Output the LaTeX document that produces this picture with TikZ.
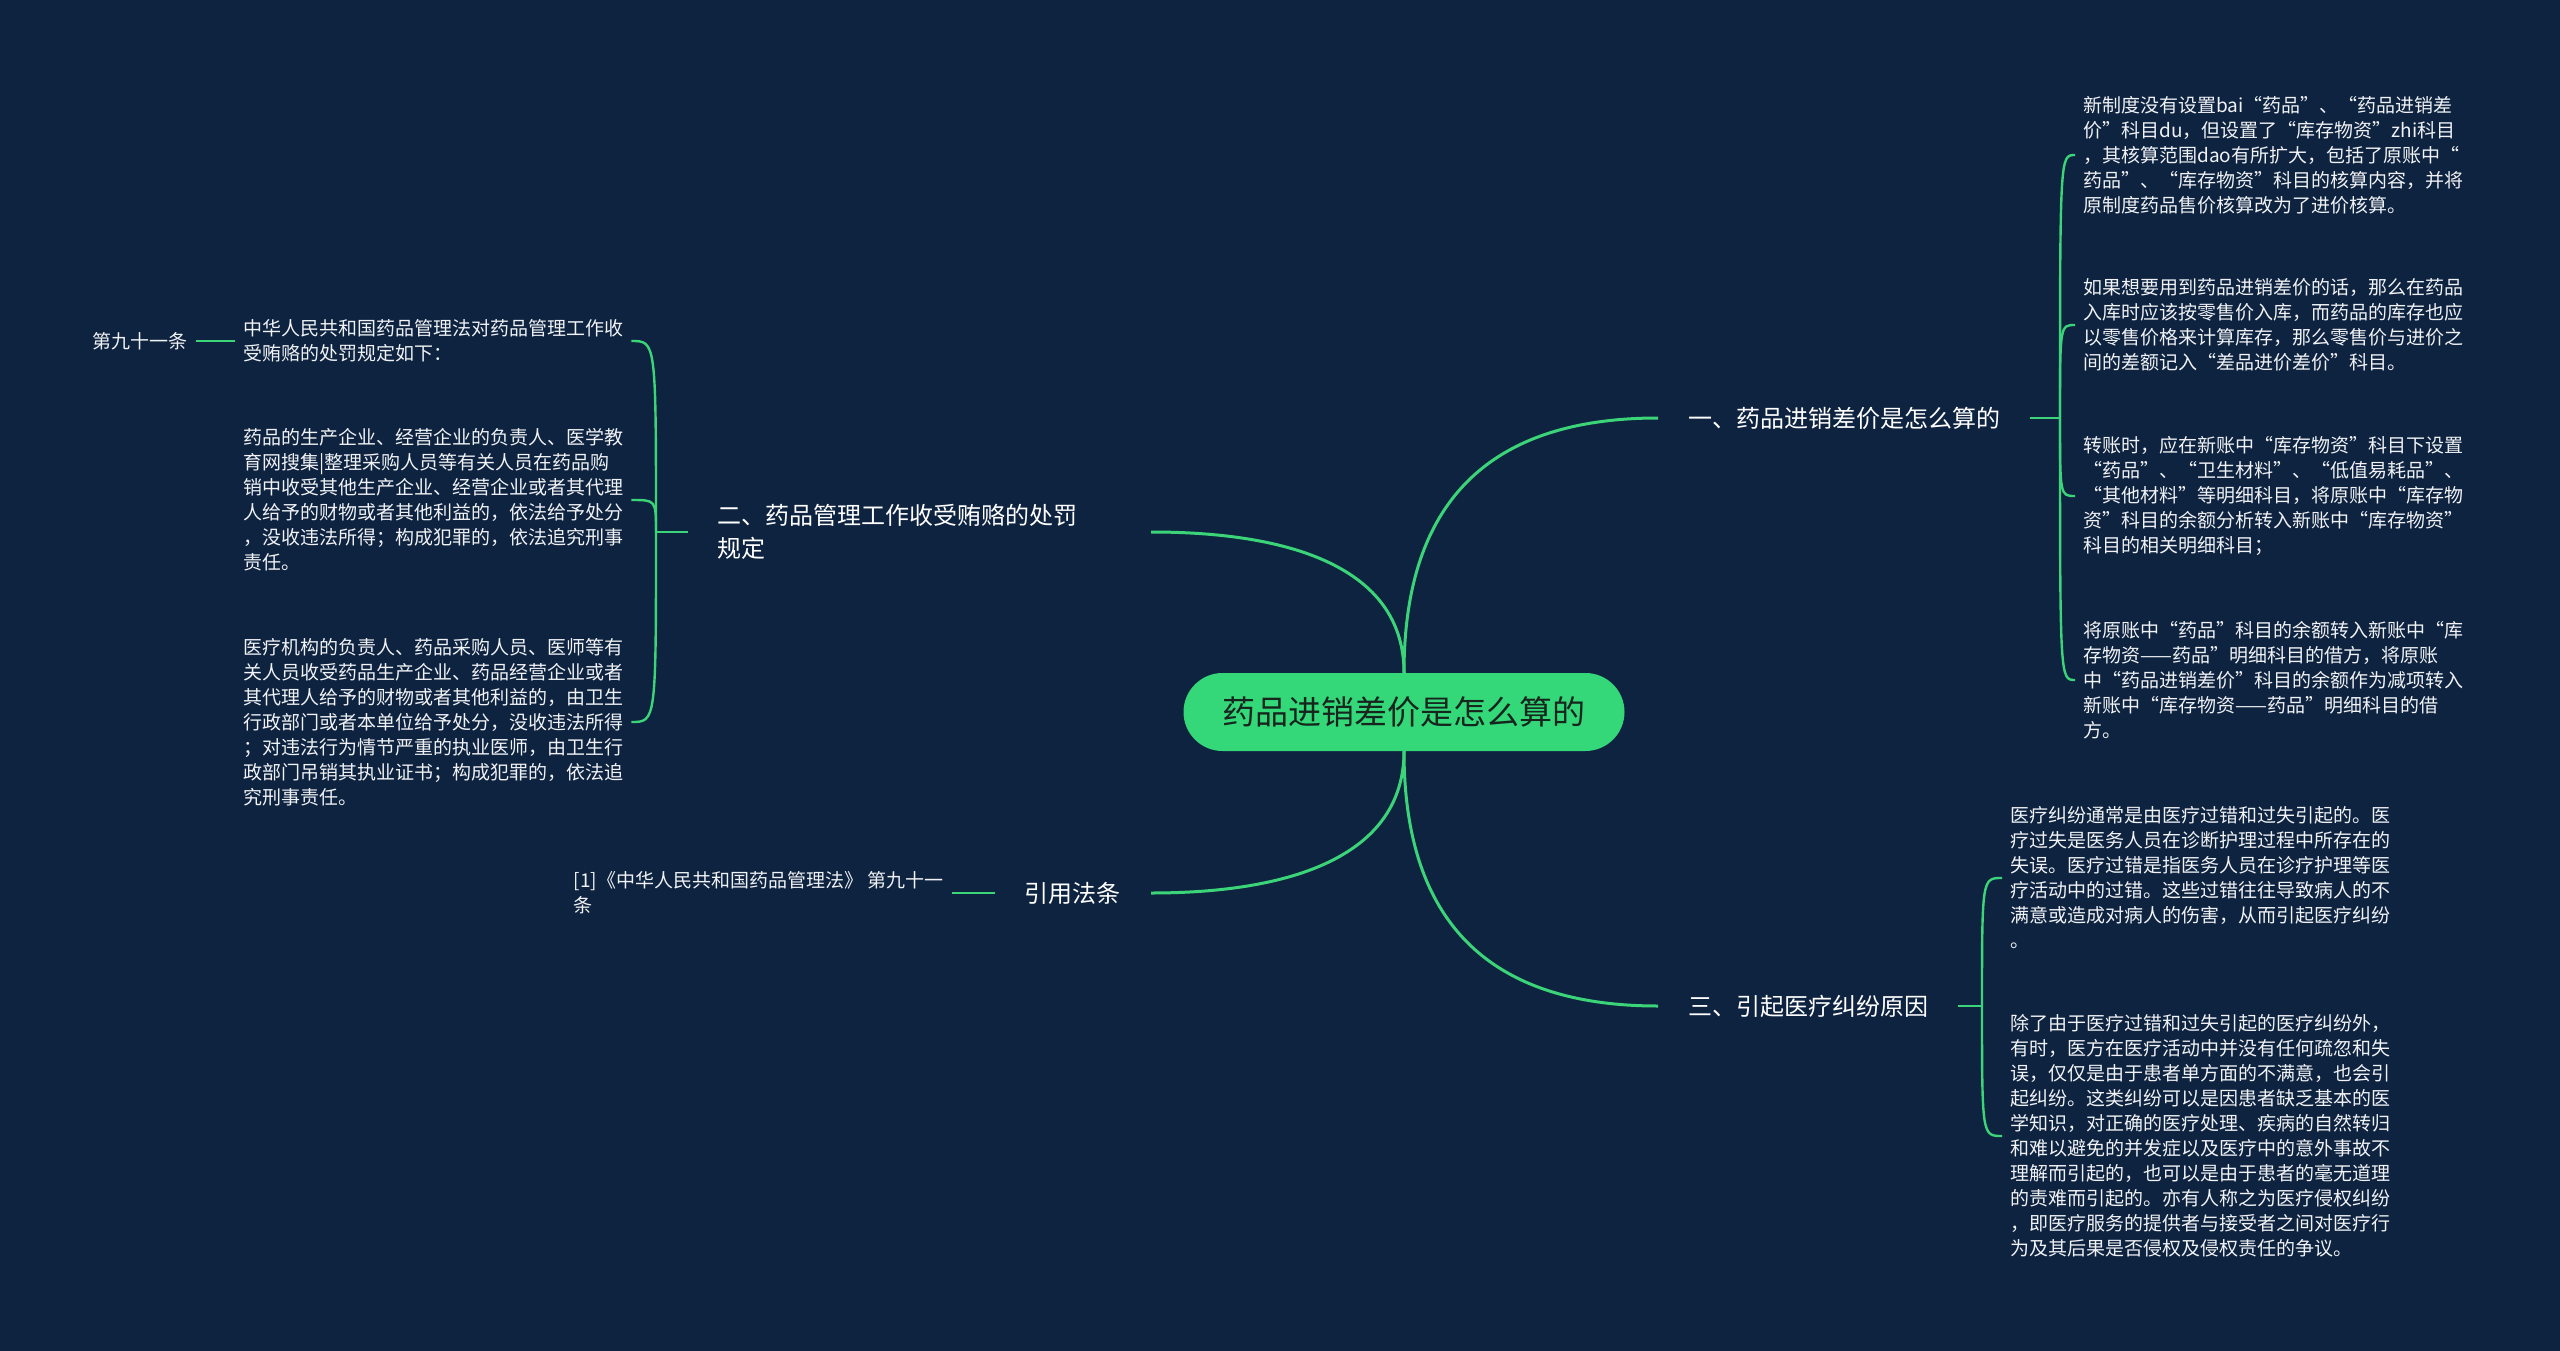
\documentclass[tikz,border=0pt]{standalone}
\usepackage{fontspec}
\setmainfont{Noto Sans CJK SC}
\usetikzlibrary{positioning}
\definecolor{mapbg}{RGB}{14,35,64}
\definecolor{mapline}{RGB}{60,212,120}
\definecolor{rootfill}{RGB}{52,216,121}
\definecolor{roottext}{RGB}{22,38,30}
\definecolor{leaftext}{RGB}{240,242,245}

\begin{document}
\begin{tikzpicture}[
  x=1pt,y=-1pt,
  link/.style={draw=mapline,line width=3pt},
  hook/.style={draw=mapline,line width=2.4pt},
  rootnode/.style={fill=rootfill,rounded corners=39pt,minimum width=441pt,minimum height=78pt,
    text=roottext,font=\fontsize{33}{40}\selectfont},
  branch/.style={text=white,inner xsep=30pt,inner ysep=6pt,align=left,
    font=\fontsize{24}{33}\selectfont},
  leaf/.style={text=leaftext,inner xsep=8pt,inner ysep=4pt,align=left,
    font=\fontsize{19}{25}\selectfont}
]
\useasboundingbox (0,0) rectangle (2560,1351);
\fill[mapbg] (0,0) rectangle (2560,1351);

% -------------------------------------------------------------------------
% root and main branches
% -------------------------------------------------------------------------
\node[rootnode] (root) at (1404,712) {药品进销差价是怎么算的};
\node[branch,anchor=west] (b1) at (1658,418) {一、药品进销差价是怎么算的};
\node[branch,anchor=east,text width=403pt] (b2) at (1151,532)
  {二、药品管理工作收受贿赂的处罚\\规定};
\node[branch,anchor=west] (b3) at (1658,1006) {三、引起医疗纠纷原因};
\node[branch,anchor=east] (b4) at (1151,893) {引用法条};

\draw[link] (root.north) .. controls +(0,-170) and +(-170,0) .. (b1.west);
\draw[link] (root.north) .. controls +(0,-100) and +(150,0) .. (b2.east);
\draw[link] (root.south) .. controls +(0,170) and +(-170,0) .. (b3.west);
\draw[link] (root.south) .. controls +(0,100) and +(150,0) .. (b4.east);

% -------------------------------------------------------------------------
% 一、药品进销差价是怎么算的
% -------------------------------------------------------------------------
\node[leaf,anchor=west] (c11) at (2075,155)
  {新制度没有设置bai“药品”、“药品进销差\\价”科目du，但设置了“库存物资”zhi科目\\，其核算范围dao有所扩大，包括了原账中“\\药品”、“库存物资”科目的核算内容，并将\\原制度药品售价核算改为了进价核算。};
\node[leaf,anchor=west] (c12) at (2075,325)
  {如果想要用到药品进销差价的话，那么在药品\\入库时应该按零售价入库，而药品的库存也应\\以零售价格来计算库存，那么零售价与进价之\\间的差额记入“差品进价差价”科目。};
\node[leaf,anchor=west] (c13) at (2075,496)
  {转账时，应在新账中“库存物资”科目下设置\\“药品”、“卫生材料”、“低值易耗品”、\\“其他材料”等明细科目，将原账中“库存物\\资”科目的余额分析转入新账中“库存物资”\\科目的相关明细科目；};
\node[leaf,anchor=west] (c14) at (2075,680)
  {将原账中“药品”科目的余额转入新账中“库\\存物资——药品”明细科目的借方，将原账\\中“药品进销差价”科目的余额作为减项转入\\新账中“库存物资——药品”明细科目的借\\方。};
\coordinate (s1) at (2060,418);
\draw[hook] (b1.east) -- (s1);
\foreach \c in {c11,c12,c13,c14}
  {\draw[hook] (s1) .. controls (s1 |- \c.west) .. (\c.west);}

% -------------------------------------------------------------------------
% 二、药品管理工作收受贿赂的处罚规定
% -------------------------------------------------------------------------
\node[leaf,anchor=west] (c21) at (235,341)
  {中华人民共和国药品管理法对药品管理工作收\\受贿赂的处罚规定如下：};
\node[leaf,anchor=west] (c22) at (235,500)
  {药品的生产企业、经营企业的负责人、医学教\\育网搜集|整理采购人员等有关人员在药品购\\销中收受其他生产企业、经营企业或者其代理\\人给予的财物或者其他利益的，依法给予处分\\，没收违法所得；构成犯罪的，依法追究刑事\\责任。};
\node[leaf,anchor=west] (c23) at (235,722)
  {医疗机构的负责人、药品采购人员、医师等有\\关人员收受药品生产企业、药品经营企业或者\\其代理人给予的财物或者其他利益的，由卫生\\行政部门或者本单位给予处分，没收违法所得\\；对违法行为情节严重的执业医师，由卫生行\\政部门吊销其执业证书；构成犯罪的，依法追\\究刑事责任。};
\node[leaf,left=39pt of c21] (d21) {第九十一条};
\draw[hook] (c21.west) -- (d21.east);
\coordinate (s2) at (656,532);
\draw[hook] (b2.west) -- (s2);
\foreach \c in {c21,c22,c23}
  {\draw[hook] (s2) .. controls (s2 |- \c.east) .. (\c.east);}

% -------------------------------------------------------------------------
% 三、引起医疗纠纷原因
% -------------------------------------------------------------------------
\node[leaf,anchor=west] (c31) at (2002,878)
  {医疗纠纷通常是由医疗过错和过失引起的。医\\疗过失是医务人员在诊断护理过程中所存在的\\失误。医疗过错是指医务人员在诊疗护理等医\\疗活动中的过错。这些过错往往导致病人的不\\满意或造成对病人的伤害，从而引起医疗纠纷\\。};
\node[leaf,anchor=west] (c32) at (2002,1136)
  {除了由于医疗过错和过失引起的医疗纠纷外，\\有时，医方在医疗活动中并没有任何疏忽和失\\误，仅仅是由于患者单方面的不满意，也会引\\起纠纷。这类纠纷可以是因患者缺乏基本的医\\学知识，对正确的医疗处理、疾病的自然转归\\和难以避免的并发症以及医疗中的意外事故不\\理解而引起的，也可以是由于患者的毫无道理\\的责难而引起的。亦有人称之为医疗侵权纠纷\\，即医疗服务的提供者与接受者之间对医疗行\\为及其后果是否侵权及侵权责任的争议。};
\coordinate (s3) at (1982,1006);
\draw[hook] (b3.east) -- (s3);
\foreach \c in {c31,c32}
  {\draw[hook] (s3) .. controls (s3 |- \c.west) .. (\c.west);}

% -------------------------------------------------------------------------
% 引用法条
% -------------------------------------------------------------------------
\node[leaf,left=43pt of b4] (c41)
  {[1]《中华人民共和国药品管理法》 第九十一\\条};
\draw[hook] (b4.west) -- (c41.east);
\end{tikzpicture}
\end{document}
